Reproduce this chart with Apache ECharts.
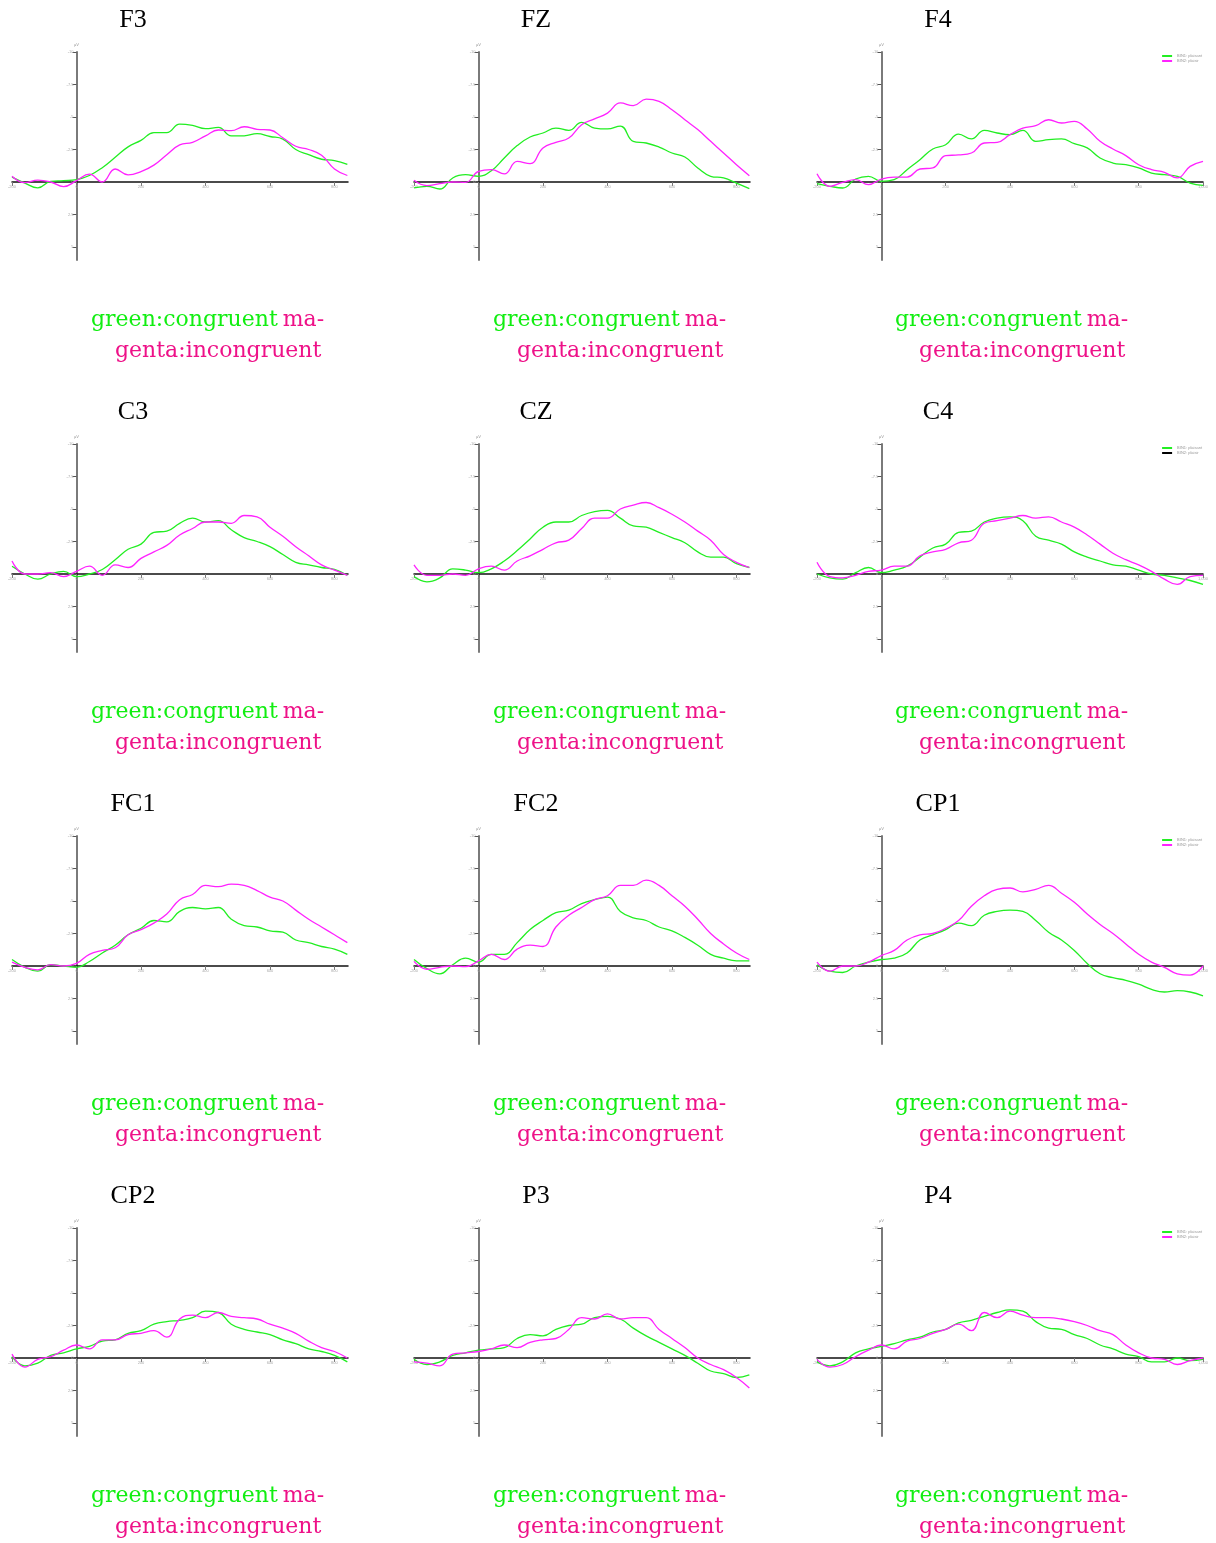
<!DOCTYPE html>
<html>
<head>
<meta charset="utf-8">
<script src="https://cdn.jsdelivr.net/npm/echarts@6/dist/echarts.min.js"></script>
<style>html,body{margin:0;padding:0;background:#fff}#c{width:1216px;height:1543px}</style>
</head>
<body>
<div id="c"></div>
<script>
// time grids (ms)
const tShort = [-200,-160,-120,-80,-40,0,40,80,120,160,200,240,280,320,360,400,440,480,520,560,600,640,680,720,760,800,840];
const tLong = [-200,-160,-120,-80,-40,0,40,80,120,160,200,240,280,320,360,400,440,480,520,560,600,640,680,720,760,800,840,880,920,960,1000];

const yTicks = [-10,-7.5,-5,-2.5,0,2.5,5];
const panelNames = ['F3','FZ','F4','C3','CZ','C4','FC1','FC2','CP1','CP2','P3','P4'];
const legendNames = ['BIN1: plaisant','BIN2: plaisir'];

// amplitudes (µV), congruent (green) and incongruent (magenta)
const F3_g = [-0.38,0.08,0.45,-0.05,-0.1,-0.18,-0.5,-1.1,-1.9,-2.7,-3.2,-3.8,-3.8,-4.45,-4.35,-4.1,-4.2,-3.55,-3.55,-3.72,-3.5,-3.3,-2.5,-2.1,-1.75,-1.65,-1.35];
const F3_m = [-0.44,0.05,-0.15,0.0,0.35,-0.1,-0.6,0.0,-1.0,-0.55,-0.8,-1.3,-2.1,-2.85,-3.05,-3.55,-4.0,-3.95,-4.25,-4.05,-4.0,-3.4,-2.75,-2.5,-2.05,-1.0,-0.5];
const FZ_g = [0.46,0.33,0.54,-0.31,-0.56,-0.44,-0.87,-1.85,-2.8,-3.46,-3.77,-4.15,-3.97,-4.59,-4.15,-4.08,-4.3,-3.13,-3.0,-2.69,-2.23,-1.92,-1.08,-0.44,-0.31,0.08,0.51];
const FZ_m = [-0.13,0.28,0.13,0.0,0.03,-0.82,-0.95,-0.62,-1.59,-1.41,-2.62,-3.05,-3.38,-4.41,-4.85,-5.3,-6.08,-5.87,-6.38,-6.2,-5.56,-4.79,-4.03,-3.13,-2.23,-1.33,-0.49];
const F4_g = [0.13,0.33,0.46,-0.23,-0.44,-0.05,-0.18,-0.95,-1.72,-2.54,-2.87,-3.69,-3.31,-3.97,-3.77,-3.64,-3.97,-3.13,-3.26,-3.31,-2.95,-2.62,-1.85,-1.46,-1.33,-1.08,-0.69,-0.56,-0.44,0.08,0.26];
const F4_m = [-0.64,0.33,0.03,-0.18,0.2,-0.23,-0.38,-0.38,-1.0,-1.08,-2.03,-2.08,-2.23,-3.0,-3.05,-3.64,-4.15,-4.33,-4.79,-4.54,-4.67,-4.08,-3.13,-2.54,-2.03,-1.33,-0.95,-0.74,-0.31,-1.2,-1.59];
const C3_g = [-0.6,0,0.4,0,-0.2,0.2,0,-0.35,-1.1,-1.9,-2.3,-3.2,-3.3,-3.9,-4.3,-4.0,-4.1,-3.4,-2.8,-2.5,-2.1,-1.5,-0.9,-0.7,-0.5,-0.35,0.1];
const C3_m = [-1.0,0.0,0.0,-0.1,0.2,-0.2,-0.6,0.1,-0.7,-0.5,-1.2,-1.7,-2.2,-3.0,-3.5,-4.0,-4.0,-3.9,-4.5,-4.4,-3.6,-2.9,-2.1,-1.4,-0.7,-0.3,0.1];
const CZ_g = [0.2,0.6,0.3,-0.4,-0.3,-0.1,-0.4,-1.0,-1.8,-2.7,-3.6,-4.0,-4.0,-4.5,-4.8,-4.9,-4.3,-3.7,-3.6,-3.2,-2.8,-2.4,-1.7,-1.3,-1.3,-0.8,-0.5];
const CZ_m = [-0.7,0.1,0.1,0.0,0.1,-0.4,-0.6,-0.3,-1.0,-1.4,-1.9,-2.4,-2.6,-3.5,-4.3,-4.3,-5.0,-5.3,-5.5,-5.1,-4.6,-4.0,-3.3,-2.6,-1.5,-0.9,-0.5];
const C4_g = [0.0,0.3,0.4,-0.1,-0.5,-0.1,-0.3,-0.6,-1.3,-2.0,-2.3,-3.2,-3.3,-4.0,-4.3,-4.4,-4.1,-2.9,-2.6,-2.3,-1.7,-1.3,-1.0,-0.7,-0.6,-0.3,0.0,0.1,0.3,0.5,0.8];
const C4_m = [-0.9,0.2,0.3,0.1,-0.2,-0.3,-0.6,-0.6,-1.4,-1.7,-1.9,-2.4,-2.6,-3.9,-4.1,-4.3,-4.5,-4.3,-4.4,-4.0,-3.6,-3.0,-2.3,-1.6,-1.1,-0.7,-0.2,0.4,0.8,0.2,0.1];
const FC1_g = [-0.5,0.1,0.4,-0.1,0.0,0.1,-0.35,-1.0,-1.6,-2.4,-2.9,-3.5,-3.4,-4.2,-4.5,-4.4,-4.5,-3.6,-3.1,-3.0,-2.7,-2.6,-2.0,-1.8,-1.5,-1.3,-0.9];
const FC1_m = [-0.3,0.1,0.3,-0.1,0.0,-0.2,-0.9,-1.2,-1.4,-2.4,-2.8,-3.3,-4.0,-5.1,-5.5,-6.2,-6.1,-6.3,-6.2,-5.8,-5.3,-5.0,-4.3,-3.6,-3.0,-2.4,-1.8];
const FC2_g = [-0.5,0.2,0.6,-0.1,-0.6,-0.3,-0.9,-0.9,-1.8,-2.8,-3.5,-4.1,-4.3,-4.8,-5.1,-5.3,-4.2,-3.7,-3.5,-3.0,-2.7,-2.2,-1.6,-0.9,-0.6,-0.4,-0.4];
const FC2_m = [-0.35,0.25,0.1,0.0,0.05,-0.4,-0.9,-0.5,-1.3,-1.6,-1.5,-3.0,-3.9,-4.5,-5.1,-5.4,-6.2,-6.2,-6.6,-6.2,-5.4,-4.6,-3.6,-2.5,-1.7,-1.0,-0.5];
const CP1_g = [-0.1,0.4,0.5,0.0,-0.3,-0.5,-0.6,-1.0,-2.0,-2.4,-2.8,-3.3,-3.1,-3.9,-4.2,-4.3,-4.2,-3.5,-2.6,-2.0,-1.2,-0.2,0.6,0.9,1.1,1.4,1.8,2.0,1.9,2.0,2.3];
const CP1_m = [-0.3,0.4,0.0,0.0,-0.3,-0.8,-1.2,-2.0,-2.4,-2.5,-2.9,-3.5,-4.6,-5.4,-5.9,-6.0,-5.7,-5.9,-6.2,-5.6,-4.9,-4.0,-3.2,-2.5,-1.7,-0.9,-0.3,0.1,0.6,0.7,0.0];
const CP2_g = [-0.1,0.6,0.4,-0.2,-0.4,-0.7,-0.9,-1.3,-1.4,-1.9,-2.1,-2.6,-2.8,-2.9,-3.1,-3.6,-3.5,-2.6,-2.2,-2.0,-1.8,-1.4,-1.1,-0.7,-0.5,-0.2,0.3];
const CP2_m = [-0.3,0.7,0.1,-0.1,-0.6,-1.0,-0.7,-1.4,-1.4,-1.8,-1.9,-2.1,-1.6,-3.0,-3.3,-3.1,-3.5,-3.2,-3.1,-3.0,-2.6,-2.3,-1.9,-1.3,-0.8,-0.5,0.0];
const P3_g = [0.1,0.5,0.3,-0.2,-0.4,-0.6,-0.7,-0.8,-1.5,-1.8,-1.7,-2.2,-2.5,-2.6,-3.1,-3.2,-3.0,-2.3,-1.7,-1.2,-0.7,-0.2,0.4,1.0,1.2,1.5,1.3];
const P3_m = [0.3,0.4,0.6,-0.3,-0.4,-0.5,-0.7,-1.0,-0.8,-1.2,-1.4,-1.5,-2.2,-3.1,-3.0,-3.4,-3.0,-3.1,-3.1,-2.2,-1.5,-0.8,0.0,0.5,0.9,1.5,2.3];
const P4_g = [0.3,0.6,0.3,-0.4,-0.7,-0.9,-1.1,-1.4,-1.6,-2.0,-2.2,-2.7,-2.9,-3.2,-3.5,-3.7,-3.6,-2.8,-2.3,-2.2,-1.8,-1.5,-1.0,-0.7,-0.3,-0.1,0.3,0.3,0.0,0.2,0.1];
const P4_m = [0.1,0.7,0.5,-0.1,-0.6,-1.0,-0.7,-1.3,-1.5,-1.9,-2.2,-2.6,-2.1,-3.5,-3.1,-3.6,-3.3,-3.1,-3.1,-3.0,-2.8,-2.5,-2.1,-1.8,-1.0,-0.4,0.0,0.1,0.5,0.2,0.0];

const greens = [F3_g,FZ_g,F4_g,C3_g,CZ_g,C4_g,FC1_g,FC2_g,CP1_g,CP2_g,P3_g,P4_g];
const magentas = [F3_m,FZ_m,F4_m,C3_m,CZ_m,C4_m,FC1_m,FC2_m,CP1_m,CP2_m,P3_m,P4_m];

const GREEN_LINE = '#22ee22', MAG_LINE = '#ff22ff';
const GREEN_TXT = '#11ee11', MAG_TXT = '#ee1188';
const colLeft = [12, 414, 817];
const colWidth = [336, 336, 386];
const colMax = [842, 842, 1000];
const colTitleX = [133, 536, 938];
const colCapX1 = [91, 493, 895];
const colCapX2 = [115, 517, 919];
const ROW = 392;
const Y_MIN = -10, Y_MAX = 6, GRID_H = 208;

const grid = [], xAxis = [], yAxis = [], series = [], title = [], legend = [];
panelNames.forEach((name, i) => {
  const r = Math.floor(i / 3), c = i % 3;
  const times = c === 2 ? tLong : tShort;
  // axes are drawn through the origin: shift them from the grid edge to the zero line
  const xOffset = -GRID_H * (Y_MAX - 0) / (Y_MAX - Y_MIN);
  const yOffset = -colWidth[c] * (0 - (-200)) / (colMax[c] + 200);
  grid.push({left: colLeft[c], top: 52 + r * ROW, width: colWidth[c], height: GRID_H, containLabel: false});
  xAxis.push({
    type: 'value', gridIndex: i, min: -200, max: colMax[c], interval: 200,
    position: 'bottom', offset: xOffset,
    axisLine: {onZero: false, lineStyle: {color: '#111', width: 1.5}},
    axisTick: {show: true, length: 4, lineStyle: {color: '#777', width: 1}},
    axisLabel: {show: true, fontSize: 4, color: '#aaa', margin: 3, showMaxLabel: c === 2},
    splitLine: {show: false}
  });
  yAxis.push({
    type: 'value', gridIndex: i, min: Y_MIN, max: Y_MAX, inverse: true,
    position: 'left', offset: yOffset,
    name: 'µV', nameLocation: 'start', nameGap: 5,
    nameTextStyle: {fontSize: 4, color: '#999'},
    axisLine: {onZero: false, lineStyle: {color: '#7a7a7a', width: 2}},
    axisTick: {show: true, length: 4, customValues: yTicks, lineStyle: {color: '#555', width: 1}},
    axisLabel: {show: true, fontSize: 4, color: '#aaa', margin: 3, customValues: yTicks},
    splitLine: {show: false}
  });
  const base = {type: 'line', xAxisIndex: i, yAxisIndex: i, showSymbol: false, smooth: 0.45, animation: false};
  series.push(Object.assign({}, base, {
    name: legendNames[0], data: times.map((t, k) => [t, greens[i][k]]),
    lineStyle: {color: GREEN_LINE, width: 1.3}, itemStyle: {color: GREEN_LINE}
  }));
  series.push(Object.assign({}, base, {
    name: legendNames[1], data: times.map((t, k) => [t, magentas[i][k]]),
    lineStyle: {color: MAG_LINE, width: 1.3}, itemStyle: {color: MAG_LINE}
  }));
  title.push({text: name, left: colTitleX[c], top: 7 + r * ROW, textAlign: 'center', padding: 0,
    textStyle: {fontFamily: 'Liberation Serif', fontSize: 26, fontWeight: 'normal', color: '#000'}});
  title.push({text: '{g|green:congruent} {m|ma-}', left: colCapX1[c], top: 309 + r * ROW, padding: 0,
    textStyle: {fontWeight: 'normal', rich: {
      g: {fontFamily: 'DejaVu Serif', fontSize: 22, fontWeight: 'normal', color: GREEN_TXT},
      m: {fontFamily: 'DejaVu Serif', fontSize: 22, fontWeight: 'normal', color: MAG_TXT}}}});
  title.push({text: 'genta:incongruent', left: colCapX2[c], top: 340 + r * ROW, padding: 0,
    textStyle: {fontFamily: 'DejaVu Serif', fontSize: 22, fontWeight: 'normal', color: MAG_TXT}});
  if (c === 2) {
    legend.push({
      orient: 'vertical', right: 14, top: 54 + r * ROW, itemWidth: 10, itemHeight: 2, itemGap: 1,
      icon: 'rect', padding: 0, selectedMode: false,
      textStyle: {fontSize: 4, color: '#999'},
      data: [
        {name: legendNames[0], itemStyle: {color: GREEN_LINE}},
        {name: legendNames[1], itemStyle: {color: i === 5 ? '#000' : MAG_LINE}}
      ]
    });
  }
});

const chart = echarts.init(document.getElementById('c'), null, {renderer: 'canvas'});
chart.setOption({animation: false, backgroundColor: '#fff', grid, xAxis, yAxis, series, title, legend});
</script>
</body>
</html>
